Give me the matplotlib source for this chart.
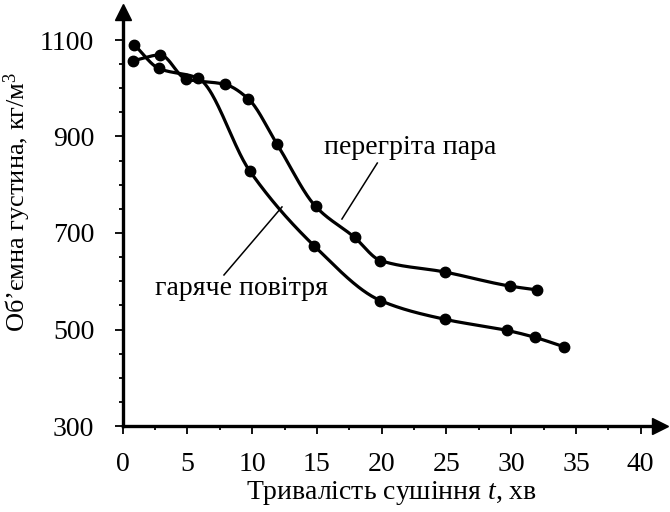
import numpy as np
import matplotlib
matplotlib.use("Agg")
import matplotlib.pyplot as plt
from matplotlib.ticker import MultipleLocator

# Drying time, min, and bulk density, kg/m3
t_air = [0.9, 2.8, 5.8, 9.8, 14.8, 19.9, 24.9, 29.7, 31.8, 34.1]
rho_air = [1090, 1041, 1021, 829, 673, 560, 521, 498, 484, 464]

t_steam = [0.8, 2.9, 4.9, 7.9, 9.7, 11.9, 14.9, 17.9, 19.9, 24.9, 29.9, 32.0]
rho_steam = [1057, 1069, 1019, 1008, 978, 885, 755, 691, 643, 619, 590, 582]

x_ticks = [0, 5, 10, 15, 20, 25, 30, 35, 40]
y_ticks = [300, 500, 700, 900, 1100]

label_air = "гаряче повітря"
label_steam = "перегріта пара"


def pchip(x, y, xs):
    """Monotone piecewise cubic Hermite interpolation."""
    x = np.asarray(x, float)
    y = np.asarray(y, float)
    h = np.diff(x)
    d = np.diff(y) / h
    n = len(x)
    m = np.zeros(n)
    for k in range(1, n - 1):
        if d[k - 1] * d[k] > 0:
            w1 = 2 * h[k] + h[k - 1]
            w2 = h[k] + 2 * h[k - 1]
            m[k] = (w1 + w2) / (w1 / d[k - 1] + w2 / d[k])
    m[0] = d[0]
    m[-1] = d[-1]
    out = np.empty_like(xs)
    for i, xv in enumerate(xs):
        k = min(max(np.searchsorted(x, xv) - 1, 0), n - 2)
        t = (xv - x[k]) / h[k]
        h00 = 2 * t**3 - 3 * t**2 + 1
        h10 = t**3 - 2 * t**2 + t
        h01 = -2 * t**3 + 3 * t**2
        h11 = t**3 - t**2
        out[i] = h00 * y[k] + h10 * h[k] * m[k] + h01 * y[k + 1] + h11 * h[k] * m[k + 1]
    return out


plt.rcParams["font.family"] = ["Liberation Serif", "DejaVu Serif"]
plt.rcParams["mathtext.fontset"] = "custom"
plt.rcParams["mathtext.rm"] = "Liberation Serif"
plt.rcParams["mathtext.it"] = "Liberation Serif:italic"

W, H = 670, 512
x0, y0 = 122.7, 426.0          # axes origin, px
x1, y1 = 660.0, 12.0           # axes far corner, px
px_per_x, px_per_y = 12.95, 0.4825

fig = plt.figure(figsize=(W / 100, H / 100), dpi=100)
ax = fig.add_axes([x0 / W, 1 - y0 / H, (x1 - x0) / W, (y0 - y1) / H])
ax.set_xlim(0, (x1 - x0) / px_per_x)
ax.set_ylim(300, 300 + (y0 - y1) / px_per_y)

for tx, ty in [(t_air, rho_air), (t_steam, rho_steam)]:
    xs = np.linspace(tx[0], tx[-1], 400)
    ax.plot(xs, pchip(tx, ty, xs), color="black", lw=2.3, solid_capstyle="round")
    ax.plot(tx, ty, "o", color="black", ms=7.5, clip_on=False)

# Leader lines to the curve labels
ax.plot([19.66, 16.93], [845, 729], color="black", lw=1.1)
ax.plot([7.82, 12.3], [613, 754], color="black", lw=1.1)
ax.text(22.2, 878, label_steam, fontsize=20, ha="center", va="center")
ax.text(9.2, 586, label_air, fontsize=20, ha="center", va="center")

for s in ["top", "right"]:
    ax.spines[s].set_visible(False)
for s in ["left", "bottom"]:
    ax.spines[s].set_linewidth(2.4)

# Axis arrows
ax.plot(1, 0, ">", color="black", ms=11, transform=ax.transAxes, clip_on=False)
ax.plot(0, 1, "^", color="black", ms=11, transform=ax.transAxes, clip_on=False)

ax.set_xticks(x_ticks)
ax.set_yticks(y_ticks)
ax.xaxis.set_minor_locator(MultipleLocator(2.5))
ax.yaxis.set_minor_locator(MultipleLocator(50))
ax.tick_params(which="major", direction="out", length=5.5, width=1.3, labelsize=20)
ax.tick_params(which="minor", direction="out", length=3, width=1.3)
ax.tick_params(axis="x", which="major", pad=13)
ax.tick_params(axis="y", which="major", pad=15)

ax.set_xlabel("Тривалість сушіння $t$, хв", fontsize=20, labelpad=2)
fig.text(17 / W, 1 - 202 / H, "Об’ємна густина, кг/м$^3$", fontsize=19,
         rotation=90, ha="center", va="center")

fig.savefig("out.png", dpi=100)
